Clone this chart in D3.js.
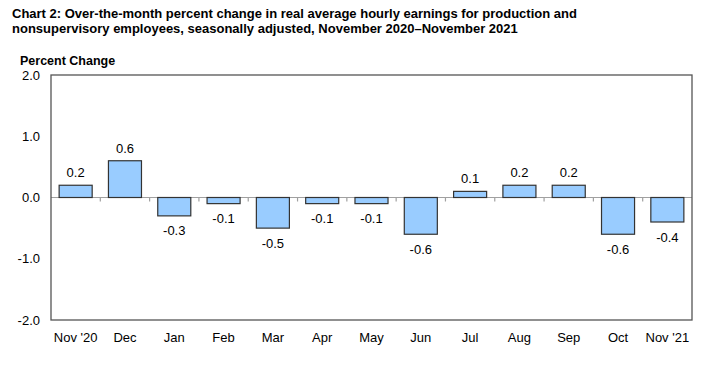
<!DOCTYPE html>
<html><head><meta charset="utf-8">
<script src="https://cdn.jsdelivr.net/npm/d3@7"></script>
<style>body{margin:0;background:#fff}svg{display:block}text{font-family:"Liberation Sans",Arial,sans-serif}</style>
</head><body><svg id="c" width="720" height="372"></svg>
<script>
const categories = ["Nov '20","Dec","Jan","Feb","Mar","Apr","May","Jun","Jul","Aug","Sep","Oct","Nov '21"];
const values = [0.2,0.6,-0.3,-0.1,-0.5,-0.1,-0.1,-0.6,0.1,0.2,0.2,-0.6,-0.4];
const yTicks = [2.0,1.0,0.0,-1.0,-2.0];
const titleLines = ["Chart 2: Over-the-month percent change in real average hourly earnings for production and","nonsupervisory employees, seasonally adjusted, November 2020\u2013November 2021"];

const svg = d3.select("#c");
const m = {l:51, r:692, t:75, b:320};
const x = d3.scaleBand().domain(categories).range([m.l,m.r]).paddingInner(0.33).paddingOuter(0.165);
const y = d3.scaleLinear().domain([-2,2]).range([m.b,m.t]);

svg.selectAll("text.title").data(titleLines).enter().append("text")
  .attr("x",12).attr("y",(d,i)=>18+i*15).attr("font-size",13).attr("font-weight","bold").attr("fill","#000").text(d=>d);
svg.append("text").attr("x",20).attr("y",65).attr("font-size",12.5).attr("font-weight","bold").text("Percent Change");

// y axis labels
svg.selectAll("text.yt").data(yTicks).enter().append("text")
  .attr("x",40).attr("y",d=>y(d)+4.5).attr("text-anchor","end").attr("font-size",13).text(d=>d.toFixed(1));

// zero line
svg.append("line").attr("x1",m.l).attr("x2",m.r).attr("y1",y(0)).attr("y2",y(0)).attr("stroke","#a0a0a0").attr("stroke-width",1.2);
// tick marks at band boundaries
const step = x.step();
svg.selectAll("line.tk").data(categories.slice(1)).enter().append("line")
  .attr("x1",d=>x(d)-(step-x.bandwidth())/2).attr("x2",d=>x(d)-(step-x.bandwidth())/2)
  .attr("y1",y(0)).attr("y2",y(0)+4).attr("stroke","#a0a0a0").attr("stroke-width",1.2);

// bars
svg.selectAll("rect.bar").data(values).enter().append("rect")
  .attr("x",(d,i)=>x(categories[i])).attr("width",x.bandwidth())
  .attr("y",d=>y(Math.max(0,d))).attr("height",d=>Math.abs(y(d)-y(0)))
  .attr("fill","#99ccff").attr("stroke","#333").attr("stroke-width",1.2);

// value labels
svg.selectAll("text.v").data(values).enter().append("text")
  .attr("x",(d,i)=>x(categories[i])+x.bandwidth()/2)
  .attr("y",d=> d>=0 ? y(d)-8 : y(d)+19.5)
  .attr("text-anchor","middle").attr("font-size",13).text(d=>d.toFixed(1));

// frame
svg.append("rect").attr("x",m.l).attr("y",m.t).attr("width",m.r-m.l).attr("height",m.b-m.t)
  .attr("fill","none").attr("stroke","#555").attr("stroke-width",1.3);

// x labels
svg.selectAll("text.xl").data(categories).enter().append("text")
  .attr("x",d=>x(d)+x.bandwidth()/2).attr("y",342).attr("text-anchor","middle").attr("font-size",13).text(d=>d);
</script></body></html>
